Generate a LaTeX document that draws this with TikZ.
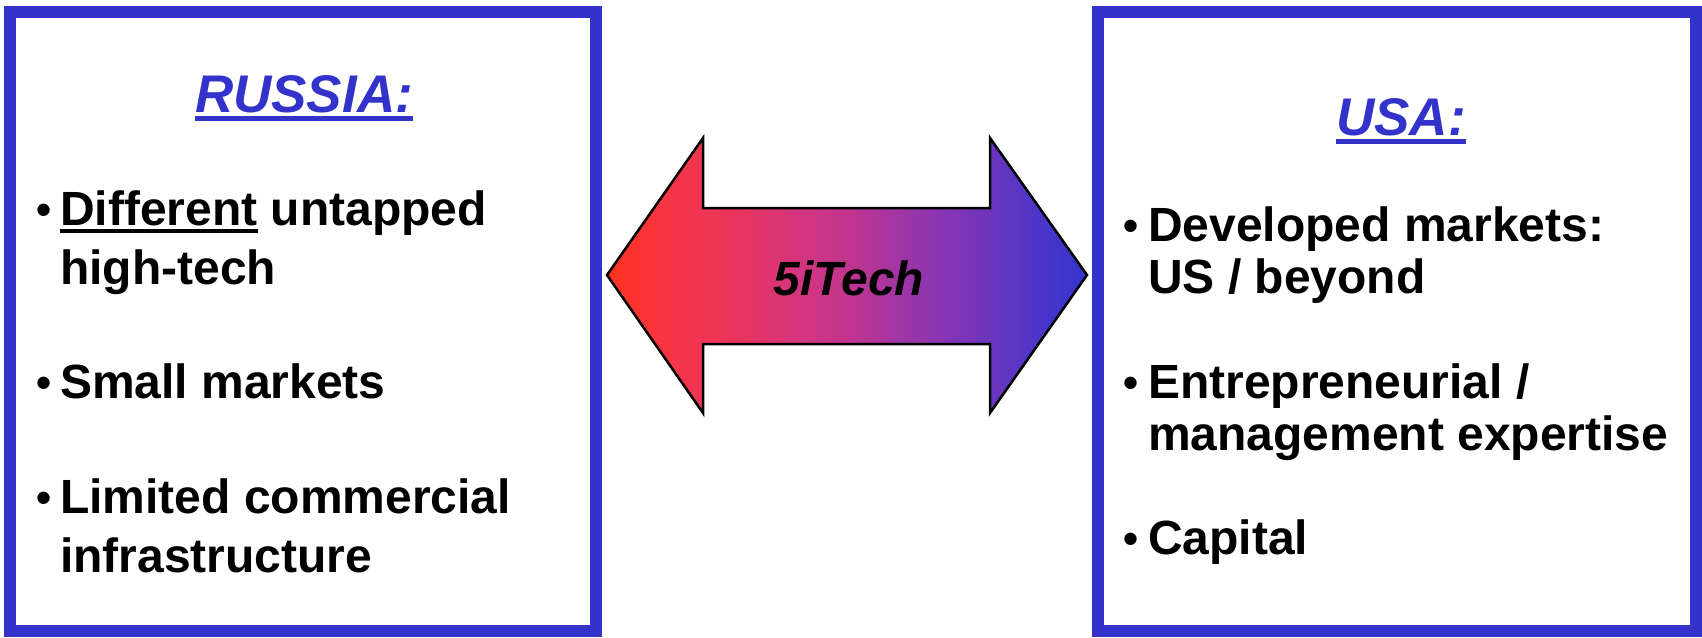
\documentclass[tikz,border=0pt]{standalone}
\usepackage{fontspec}
\setmainfont{Liberation Sans}
\definecolor{boxblue}{RGB}{51,51,204}
\pgfdeclarehorizontalshading{arrgrad}{100bp}{%
  rgb(0bp)=(1,0.196,0.118);
  rgb(25bp)=(1,0.196,0.118);
  rgb(32.5bp)=(0.961,0.208,0.29);
  rgb(40bp)=(0.894,0.208,0.392);
  rgb(45bp)=(0.831,0.208,0.502);
  rgb(50.5bp)=(0.753,0.208,0.565);
  rgb(55.5bp)=(0.627,0.208,0.647);
  rgb(60.5bp)=(0.522,0.208,0.71);
  rgb(66bp)=(0.396,0.208,0.753);
  rgb(71bp)=(0.271,0.208,0.792);
  rgb(75bp)=(0.2,0.2,0.8);
  rgb(100bp)=(0.2,0.2,0.8)}
\newcommand\ulbox[3]{\setbox0\hbox{#1}\rlap{\rule[#2]{\wd0}{#3}}\box0\relax}
\begin{document}
\begin{tikzpicture}[x=1pt,y=-1pt,
  frame/.style={draw=boxblue,line width=12pt},
  title/.style={font=\fontsize{53}{60}\selectfont\bfseries\itshape,text=boxblue,inner sep=0pt,anchor=base},
  item/.style={font=\fontsize{48}{56}\selectfont\bfseries,inner sep=0pt,anchor=base west},
  blt/.style={font=\fontsize{43}{48}\selectfont\bfseries,inner sep=0pt,anchor=base}]
\useasboundingbox (0,0) rectangle (1702,637);
\fill[white] (0,0) rectangle (1702,637);
% frames
\draw[frame] (10,12) rectangle (596,631);
\draw[frame] (1098,12) rectangle (1696,631);
% arrow
\coordinate (tl) at (607,275);
\coordinate (tr) at (1087,275);
\shade[shading=arrgrad]
  (tl) -- (703,138) -- (703,208) -- (990,208) -- (990,138) -- (tr) -- (990,413) -- (990,344) -- (703,344) -- (703,413) -- cycle;
\draw[black,line width=2.5pt,line join=miter]
  (tl) -- (703,138) -- (703,208) -- (990,208) -- (990,138) -- (tr) -- (990,413) -- (990,344) -- (703,344) -- (703,413) -- cycle;
\node[font=\fontsize{48}{56}\selectfont\bfseries\itshape,inner sep=0pt,anchor=base] (tech) at (849,295) {5iTech};
% left side
\node[title] (rus) at (304,112) {\ulbox{RUSSIA:}{-9pt}{5pt}};
\node[blt] (b1) at (44,224) {•};
\node[item] (l1) at (60,225) {\ulbox{Different}{-8pt}{4pt} untapped};
\node[item] (l2) at (60,284) {high-tech};
\node[blt] (b2) at (44,397) {•};
\node[item] (l3) at (60,398) {Small markets};
\node[blt] (b3) at (44,512) {•};
\node[item] (l4) at (60,513) {Limited commercial};
\node[item] (l5) at (60,572) {infrastructure};
% right side
\node[title] (usa) at (1401,135) {\ulbox{USA:}{-9pt}{5pt}};
\node[blt] (c1) at (1131,240) {•};
\node[item] (r1) at (1148,241) {Developed markets:};
\node[item] (r2) at (1148,293) {US / beyond};
\node[blt] (c2) at (1131,397) {•};
\node[item] (r3) at (1148,398) {Entrepreneurial /};
\node[item] (r4) at (1148,450) {management expertise};
\node[blt] (c3) at (1131,553) {•};
\node[item] (r5) at (1148,554) {Capital};
\end{tikzpicture}
\end{document}
